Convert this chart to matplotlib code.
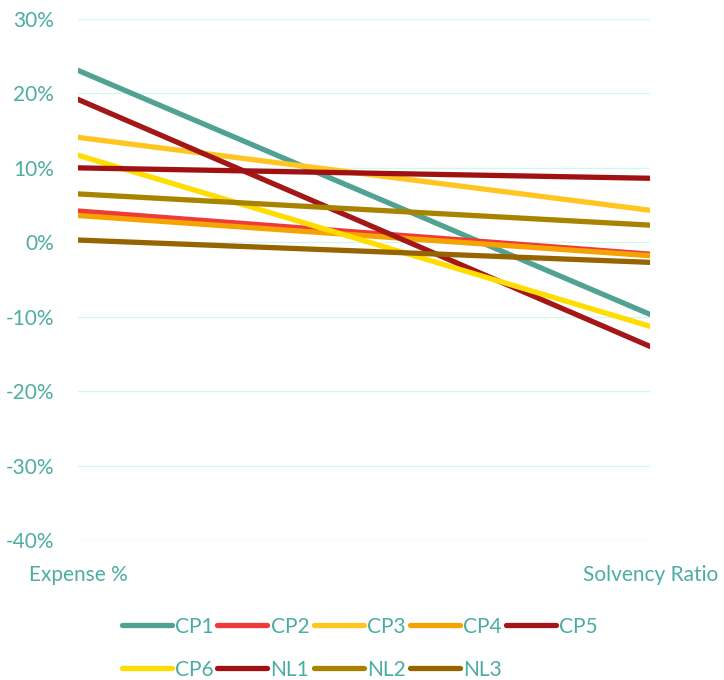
import matplotlib
matplotlib.use("Agg")
import matplotlib.pyplot as plt
from matplotlib.ticker import FuncFormatter

categories = ["Expense %", "Solvency Ratio"]
series_names = ["CP1", "CP2", "CP3", "CP4", "CP5", "CP6", "NL1", "NL2", "NL3"]
expense = [23.1, 4.2, 14.1, 3.6, 19.2, 11.7, 10.0, 6.5, 0.3]
solvency = [-9.7, -1.6, 4.3, -1.8, -14.0, -11.3, 8.6, 2.3, -2.7]
colors = ["#52A294", "#F03A3A", "#FFC520", "#F5A300", "#A31717",
          "#FFDD00", "#A01212", "#A88300", "#966400"]

text_color = "#4DADA3"
grid_color = "#D2F7EE"

plt.rcParams["font.family"] = ["Lato", "DejaVu Sans"]

fig = plt.figure(figsize=(7.24, 6.8), dpi=100)
ax = fig.add_axes([0.1077, 0.206, 0.7903, 0.766])

xs = [0, 1]
lines = []
for name, a, b, c in zip(series_names, expense, solvency, colors):
    ln, = ax.plot(xs, [a, b], color=c, lw=3.8, solid_capstyle="round", label=name)
    lines.append(ln)

ax.set_xlim(0, 1)
ax.set_ylim(-40, 30)
ax.set_yticks(range(-40, 31, 10))
ax.yaxis.set_major_formatter(FuncFormatter(lambda v, p: f"{v:.0f}%"))
ax.grid(axis="y", color=grid_color, lw=1)
ax.set_axisbelow(True)
for s in ax.spines.values():
    s.set_visible(False)
ax.tick_params(axis="y", length=0, pad=17, labelsize=15, labelcolor=text_color)
ax.set_xticks(xs)
ax.set_xticklabels(categories)
ax.tick_params(axis="x", length=0, pad=18, labelsize=15, labelcolor=text_color)

# legend fills column-wise, reorder so it reads row by row
order = [0, 5, 1, 6, 2, 7, 3, 8, 4]
leg = fig.legend([lines[i] for i in order], [series_names[i] for i in order],
                 loc="lower left", bbox_to_anchor=(0.142, -0.027), ncol=5,
                 frameon=False, fontsize=15, handlelength=2.4,
                 handletextpad=0.15, columnspacing=0.2, labelspacing=1.1)
for t in leg.get_texts():
    t.set_color(text_color)

fig.savefig("out.png", dpi=100)
